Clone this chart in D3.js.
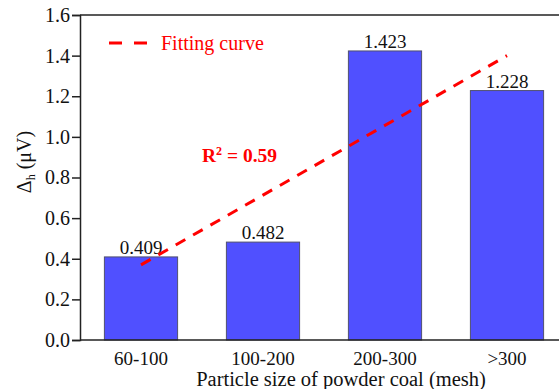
<!DOCTYPE html>
<html>
<head>
<meta charset="utf-8">
<script src="https://cdn.jsdelivr.net/npm/d3@7"></script>
<style>
  html, body { margin: 0; padding: 0; background: #fff; }
  svg { display: block; }
  text { font-family: "Liberation Serif", "Times New Roman", serif; }
</style>
</head>
<body>
<script>
// Particle size classes and measured Δh values
const categories = ["60-100", "100-200", "200-300", ">300"];
const values = [0.409, 0.482, 1.423, 1.228];
const valueLabels = ["0.409", "0.482", "1.423", "1.228"];
const yTicks = [0.0, 0.2, 0.4, 0.6, 0.8, 1.0, 1.2, 1.4, 1.6];
// Linear fit line, from the first to the last class
const fitCategories = ["60-100", ">300"];
const fitValues = [0.37, 1.40];

const W = 559, H = 389;
const margin = { left: 80, top: 15, bottom: 49 };
const plotRight = 568;
const serif = "'Liberation Serif', 'Times New Roman', serif";

const svg = d3.select("body").append("svg").attr("width", W).attr("height", H);

const x = d3.scaleBand().domain(categories).range([margin.left, plotRight]).paddingInner(0.4).paddingOuter(0.2);
const y = d3.scaleLinear().domain([0, 1.6]).range([H - margin.bottom, margin.top]);

// Bars
svg.append("g").selectAll("rect").data(values).join("rect")
  .attr("x", (d, i) => x(categories[i]))
  .attr("y", d => y(d))
  .attr("width", x.bandwidth())
  .attr("height", d => y(0) - y(d))
  .attr("fill", "#5050ff")
  .attr("stroke", "#505070")
  .attr("stroke-width", 1);

// Value labels
svg.append("g").selectAll("text").data(values).join("text")
  .attr("x", (d, i) => x(categories[i]) + x.bandwidth() / 2)
  .attr("y", d => y(d) - 3)
  .attr("text-anchor", "middle")
  .attr("font-size", 19)
  .attr("fill", "#111")
  .text((d, i) => valueLabels[i]);

// Fit line
const fitLine = d3.line()
  .x((d, i) => x(fitCategories[i]) + x.bandwidth() / 2)
  .y(d => y(d));
svg.append("path").datum(fitValues)
  .attr("d", fitLine)
  .attr("fill", "none")
  .attr("stroke", "#ff0000")
  .attr("stroke-width", 3)
  .attr("stroke-dasharray", "11,9");

// Y axis
const yAxis = d3.axisLeft(y).tickValues(yTicks).tickFormat(d3.format(".1f")).tickSize(8).tickPadding(2);
const gy = svg.append("g").attr("transform", `translate(${margin.left},0)`).call(yAxis);
gy.attr("font-family", serif);
gy.select(".domain").attr("stroke", "#222").attr("stroke-width", 1.5);
gy.selectAll(".tick line").attr("stroke", "#222").attr("stroke-width", 1.5);
gy.selectAll(".tick text").attr("font-size", 20).attr("fill", "#111");

// X axis (labels only, no tick marks)
const xAxis = d3.axisBottom(x).tickSize(0).tickPadding(12);
const gx = svg.append("g").attr("transform", `translate(0,${y(0)})`).call(xAxis);
gx.attr("font-family", serif);
gx.select(".domain").remove();
gx.selectAll(".tick text").attr("font-size", 19).attr("fill", "#111");

// Frame top and bottom
svg.append("line").attr("x1", margin.left).attr("x2", plotRight).attr("y1", y(0)).attr("y2", y(0))
  .attr("stroke", "#222").attr("stroke-width", 1.5);
svg.append("line").attr("x1", margin.left).attr("x2", plotRight).attr("y1", y(1.6)).attr("y2", y(1.6))
  .attr("stroke", "#222").attr("stroke-width", 1.5);

// Axis titles
svg.append("text")
  .attr("x", 341)
  .attr("y", 386)
  .attr("text-anchor", "middle")
  .attr("font-size", 20.5)
  .attr("fill", "#111")
  .text("Particle size of powder coal (mesh)");

const yt = svg.append("text")
  .attr("transform", `translate(31,${162}) rotate(-90)`)
  .attr("text-anchor", "middle")
  .attr("font-size", 20)
  .attr("fill", "#111");
yt.append("tspan").text("Δ");
yt.append("tspan").attr("font-size", 12).attr("dy", 4).text("h");
yt.append("tspan").attr("dy", -4).text(" (μV)");

// Legend
const lg = svg.append("g");
lg.append("line").attr("x1", 109).attr("x2", 147).attr("y1", 43).attr("y2", 43)
  .attr("stroke", "#ff0000").attr("stroke-width", 3).attr("stroke-dasharray", "13,12");
lg.append("text").attr("x", 161).attr("y", 50).attr("font-size", 20).attr("fill", "#ff0000").text("Fitting curve");

// R² annotation
const r2 = svg.append("text").attr("x", 202).attr("y", 162)
  .attr("font-size", 19.5).attr("font-weight", "bold").attr("fill", "#ff0000");
r2.append("tspan").text("R");
r2.append("tspan").attr("font-size", 12).attr("dy", -7).text("2");
r2.append("tspan").attr("dy", 7).text(" = 0.59");
</script>
</body>
</html>
